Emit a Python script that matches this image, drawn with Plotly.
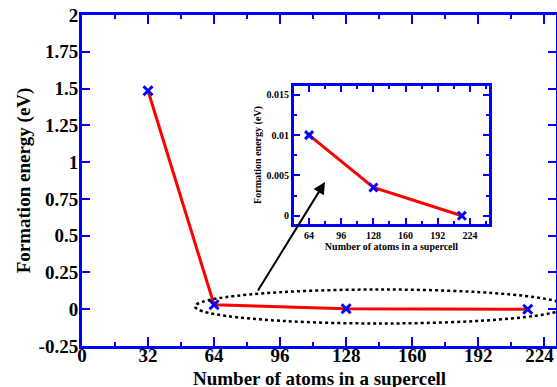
import plotly.graph_objects as go

# Supercell size study: formation energy vs. number of atoms
atoms_main = [32, 64, 128, 216]
energy_main = [1.485, 0.03, 0.0035, 0.0]

atoms_inset = [64, 128, 216]
energy_inset = [0.01, 0.0035, 0.0]

main_y_ticks = [-0.25, 0, 0.25, 0.5, 0.75, 1, 1.25, 1.5, 1.75, 2]
main_y_labels = ["-0.25", "0", "0.25", "0.5", "0.75", "1", "1.25", "1.5", "1.75", "2"]
main_x_ticks = [0, 32, 64, 96, 128, 160, 192, 224]
# last label nudged left so it stays inside the figure edge
main_x_labels = ["0", "32", "64", "96", "128", "160", "192", "224\u00a0\u00a0"]
inset_x_ticks = [64, 96, 128, 160, 192, 224]
inset_y_ticks = [0, 0.005, 0.01, 0.015]
inset_y_labels = ["0", "0.005", "0.01", "0.015"]

BLUE = "#0000ff"
RED = "#ff0000"
FONT = "Liberation Serif"


def bold(labels):
    return [f"<b>{t}</b>" for t in labels]


fig = go.Figure()

fig.add_trace(go.Scatter(
    x=atoms_main, y=energy_main, mode="lines+markers",
    line=dict(color=RED, width=3),
    marker=dict(symbol="x-thin", size=9, line=dict(color=BLUE, width=3), color=BLUE),
    xaxis="x", yaxis="y", showlegend=False, cliponaxis=False,
))

fig.add_trace(go.Scatter(
    x=atoms_inset, y=energy_inset, mode="lines+markers",
    line=dict(color=RED, width=3),
    marker=dict(symbol="x-thin", size=8, line=dict(color=BLUE, width=3), color=BLUE),
    xaxis="x2", yaxis="y2", showlegend=False, cliponaxis=False,
))

axis_common = dict(
    showline=True, linecolor=BLUE, linewidth=3, mirror="ticks",
    ticks="inside", tickcolor=BLUE, showgrid=False, zeroline=False,
    automargin=False, ticklabeloverflow="allow",
)

main_tick_font = dict(size=19, family=FONT, weight=700)
inset_tick_font = dict(size=10, family=FONT, weight=700)

fig.update_layout(
    width=557, height=387,
    margin=dict(l=82, r=1, t=15, b=41),
    paper_bgcolor="white", plot_bgcolor="white",
    font=dict(family=FONT, color="black"),
    xaxis=dict(
        **axis_common, range=[0, 229.7],
        tickvals=main_x_ticks, ticktext=bold(main_x_labels),
        ticklen=9, tickwidth=2, ticklabelstandoff=-10,
        minor=dict(dtick=16, tick0=0, ticks="inside", ticklen=4, tickwidth=2, tickcolor=BLUE),
        tickfont=main_tick_font,
    ),
    yaxis=dict(
        **axis_common, range=[-0.25, 2],
        tickvals=main_y_ticks, ticktext=bold(main_y_labels),
        ticklen=8, tickwidth=2, ticklabelstandoff=-3,
        tickfont=main_tick_font,
        title=dict(text="<b>Formation energy (eV)</b>",
                   font=dict(size=19, family=FONT, weight=700), standoff=3),
    ),
    xaxis2=dict(
        **axis_common, domain=[0.4473, 0.8586], anchor="y2", range=[49, 243],
        tickvals=inset_x_ticks, ticktext=bold([str(v) for v in inset_x_ticks]),
        ticklen=6, tickwidth=2,
        minor=dict(dtick=16, tick0=0, ticks="inside", ticklen=3, tickwidth=2, tickcolor=BLUE),
        tickfont=inset_tick_font,
        title=dict(text="<b>Number of atoms in a supercell</b>",
                   font=dict(size=10, family=FONT, weight=700), standoff=2),
    ),
    yaxis2=dict(
        **axis_common, domain=[0.3686, 0.7855], anchor="x2", range=[-0.00103, 0.0161],
        tickvals=inset_y_ticks, ticktext=bold(inset_y_labels), ticklen=6, tickwidth=2,
        minor=dict(dtick=0.0025, tick0=0, ticks="inside", ticklen=3, tickwidth=2, tickcolor=BLUE),
        tickfont=inset_tick_font,
        title=dict(text="<b>Formation energy (eV)</b>",
                   font=dict(size=10, family=FONT, weight=700), standoff=4),
    ),
)

# Main x-axis title, set just below the tick labels
fig.add_annotation(
    xref="paper", yref="paper", x=0.5, y=-0.097, xanchor="center", yanchor="middle",
    text="<b>Number of atoms in a supercell</b>", showarrow=False,
    font=dict(size=19, family=FONT, weight=700, color="black"),
)

# Dotted ellipse highlighting the small-energy region
fig.add_shape(
    type="circle", xref="x", yref="y",
    x0=54.8, x1=234.3, y0=-0.097, y1=0.134,
    line=dict(color="black", width=2.5, dash="dot"),
    layer="above",
)

# Arrow pointing from the highlighted region to the inset
fig.add_annotation(
    xref="paper", yref="paper", x=0.5127, y=0.4955,
    ax=-68, ay=110, axref="pixel", ayref="pixel",
    text="", showarrow=True, arrowhead=2, arrowsize=1.2,
    arrowwidth=2, arrowcolor="black",
)

fig.write_html("out.html")
